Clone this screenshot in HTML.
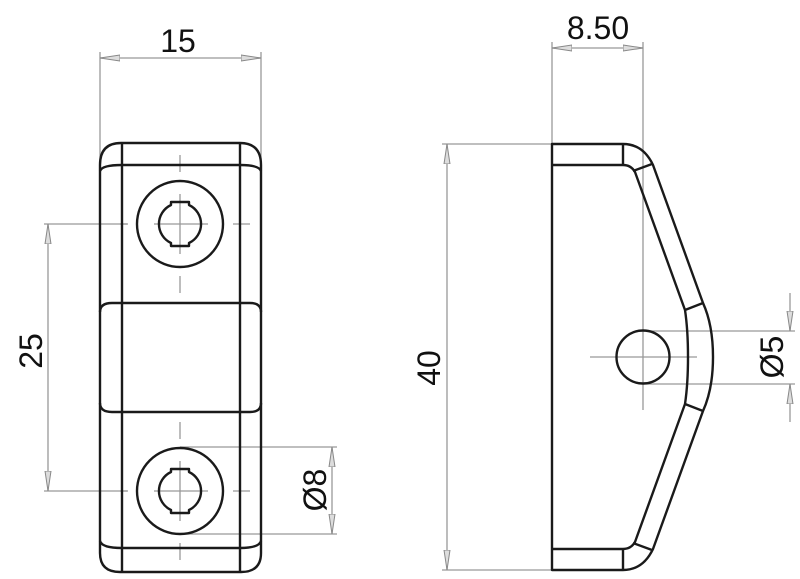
<!DOCTYPE html>
<html><head><meta charset="utf-8"><style>
html,body{margin:0;padding:0;background:#fff;}
svg{display:block;}
text{font-family:"Liberation Sans",sans-serif;fill:#111;}
</style></head><body>
<svg width="800" height="579" viewBox="0 0 800 579" xmlns="http://www.w3.org/2000/svg">
<defs>
<marker id="a" viewBox="0 0 20 8" refX="20" refY="4" markerWidth="20" markerHeight="8" markerUnits="userSpaceOnUse" orient="auto-start-reverse">
<path d="M0,1 L20,4 L0,7 Z" fill="#ddd" stroke="#888" stroke-width="1"/>
</marker>
</defs>
<g stroke="#999" stroke-width="1.3" fill="none">
<line x1="100" y1="52" x2="100" y2="170"/><line x1="261" y1="52" x2="261" y2="170"/>
<line x1="100" y1="58" x2="261" y2="58" marker-start="url(#a)" marker-end="url(#a)"/>
<line x1="44" y1="224" x2="128" y2="224"/><line x1="44" y1="491" x2="128" y2="491"/>
<line x1="48" y1="224" x2="48" y2="491" marker-start="url(#a)" marker-end="url(#a)"/>
<line x1="180" y1="447" x2="337" y2="447"/><line x1="180" y1="534" x2="337" y2="534"/>
<line x1="332" y1="447" x2="332" y2="534" marker-start="url(#a)" marker-end="url(#a)"/>
<line x1="180" y1="155" x2="180" y2="172"/><line x1="180" y1="194" x2="180" y2="254"/><line x1="180" y1="276" x2="180" y2="293"/>
<line x1="120" y1="224" x2="127" y2="224"/><line x1="154" y1="224" x2="208" y2="224"/><line x1="233" y1="224" x2="250" y2="224"/>
<line x1="180" y1="422" x2="180" y2="439"/><line x1="180" y1="461" x2="180" y2="521"/><line x1="180" y1="543" x2="180" y2="560"/>
<line x1="120" y1="491" x2="127" y2="491"/><line x1="154" y1="491" x2="208" y2="491"/><line x1="233" y1="491" x2="250" y2="491"/>
<line x1="552" y1="42" x2="552" y2="144"/><line x1="643" y1="42" x2="643" y2="410"/>
<line x1="552" y1="48" x2="643" y2="48" marker-start="url(#a)" marker-end="url(#a)"/>
<line x1="442" y1="144" x2="552" y2="144"/><line x1="442" y1="570" x2="552" y2="570"/>
<line x1="447" y1="144" x2="447" y2="570" marker-start="url(#a)" marker-end="url(#a)"/>
<line x1="643" y1="331" x2="795" y2="331"/><line x1="643" y1="384" x2="795" y2="384"/>
<line x1="790" y1="293" x2="790" y2="331" marker-end="url(#a)"/><line x1="790" y1="422" x2="790" y2="384" marker-end="url(#a)"/>
<line x1="590" y1="357" x2="697" y2="357"/>
</g>
<g stroke="#1a1a1a" stroke-width="2.4" fill="none" stroke-linejoin="round">
<path d="M100,170 L100,553 Q100,572 120,572 L241,572 Q261,572 261,553 L261,165 Q261,143 240,143 L121,143 Q100,143 100,165 Z"/>
<path d="M100,171 Q102,165 122,165 L240,165 Q259,165 261,171"/>
<line x1="122" y1="143" x2="122" y2="572"/><line x1="240" y1="143" x2="240" y2="572"/>
<path d="M100,312 Q100,303 112,303 L250,303 Q261,303 261,312"/>
<path d="M100,403 Q100,412 112,412 L250,412 Q261,412 261,403"/>
<path d="M100,541 Q102,548 122,548 L240,548 Q259,548 261,541"/>
<circle cx="180" cy="224" r="43"/>
<circle cx="180" cy="491" r="43"/>
<path d="M171,205 L171,202 L189,202 L189,205 A21,21 0 0 1 189,243 L189,246 L171,246 L171,243 A21,21 0 0 1 171,205 Z"/>
<path d="M171,472 L171,469 L189,469 L189,472 A21,21 0 0 1 189,510 L189,513 L171,513 L171,510 A21,21 0 0 1 171,472 Z"/>
<path d="M552,144 L623,144 Q643,144 653,165 L703,303 Q713,325 713,357 Q713,389 703,411 L653,549 Q643,570 623,570 L552,570 Z"/>
<line x1="552" y1="165" x2="623" y2="165"/><line x1="552" y1="549" x2="623" y2="549"/>
<line x1="623" y1="144" x2="623" y2="165"/><line x1="623" y1="549" x2="623" y2="570"/>
<path d="M623,165 Q631,165 635,172 L685,310 Q688,330 688,357 Q688,384 685,404 L635,542 Q631,549 623,549"/>
<line x1="633" y1="171" x2="652" y2="164"/><line x1="685" y1="310" x2="703" y2="303"/>
<line x1="685" y1="404" x2="703" y2="411"/><line x1="633" y1="543" x2="652" y2="550"/>
<circle cx="643" cy="357" r="26.5"/>
</g>
<text x="178" y="52" font-size="32" text-anchor="middle">15</text>
<text x="598" y="39" font-size="32" text-anchor="middle">8.50</text>
<text transform="translate(42,351) rotate(-90)" font-size="32" text-anchor="middle">25</text>
<text transform="translate(440,368) rotate(-90)" font-size="32" text-anchor="middle">40</text>
<text transform="translate(326,490) rotate(-90)" font-size="32" text-anchor="middle">Ø8</text>
<text transform="translate(783,357) rotate(-90)" font-size="32" text-anchor="middle">Ø5</text>
</svg>
</body></html>
